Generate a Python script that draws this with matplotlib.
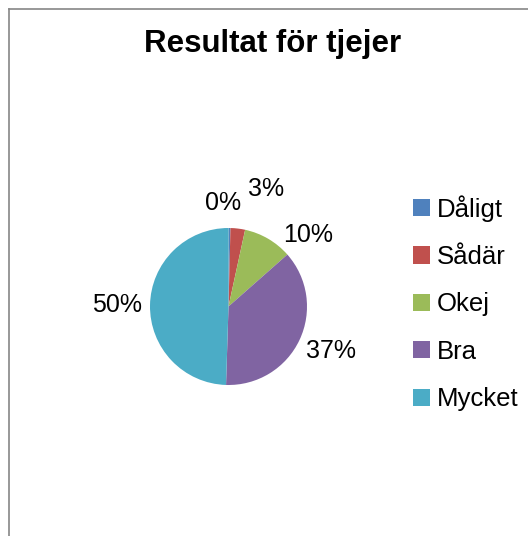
import matplotlib.pyplot as plt

plt.rcParams["font.family"] = ["Liberation Sans", "DejaVu Sans"]

# data
categories = ["Dåligt", "Sådär", "Okej", "Bra", "Mycket"]
shares = [0.4, 3.0, 10.1, 37.0, 49.5]
colors = ["#4F81BD", "#C0504D", "#9BBB59", "#8064A2", "#4BACC6"]
title = "Resultat för tjejer"

W, H = 528, 536
fig = plt.figure(figsize=(W / 100, H / 100), dpi=100)
ax = fig.add_axes([0, 0, 1, 1])

wedges, texts, pcts = ax.pie(
    shares,
    colors=colors,
    startangle=90,
    counterclock=False,
    center=(228.5, H - 306.5),
    radius=78.5,
    autopct="%1.0f%%",
    textprops={"fontsize": 18, "color": "black"},
    wedgeprops={"linewidth": 0},
    frame=True,
)
ax.axis("off")
ax.set_xlim(0, W)
ax.set_ylim(0, H)
ax.set_aspect("equal")

# Excel-style "best fit" label spots (pixels from top-left)
label_spots = [(223.5, 202.5), (266, 189), (308, 235.5), (331, 350.5), (117.5, 304.5)]
for t, (x, y) in zip(pcts, label_spots):
    t.set_position((x, H - y))
    t.set_ha("center")
    t.set_va("center")

ax.text(273, H - 52, title, fontsize=22.5, fontweight="bold",
        ha="center", va="baseline")

leg = ax.legend(
    wedges, categories,
    loc="upper left",
    bbox_to_anchor=(413 / W, 1 - 195 / H),
    bbox_transform=fig.transFigure,
    frameon=False,
    fontsize=18.5,
    handlelength=0.66,
    handleheight=0.66,
    handletextpad=0.25,
    labelspacing=0.91,
    borderpad=0,
    borderaxespad=0,
)

# chart area border (cropped at right and bottom)
fig.add_artist(plt.Line2D([8.5 / W, 8.5 / W], [0, 1 - 8.5 / H],
                          transform=fig.transFigure, color="#868686", lw=1.2))
fig.add_artist(plt.Line2D([8.5 / W, 1], [1 - 8.5 / H, 1 - 8.5 / H],
                          transform=fig.transFigure, color="#868686", lw=1.2))

fig.savefig("out.png", dpi=100, facecolor="white")
